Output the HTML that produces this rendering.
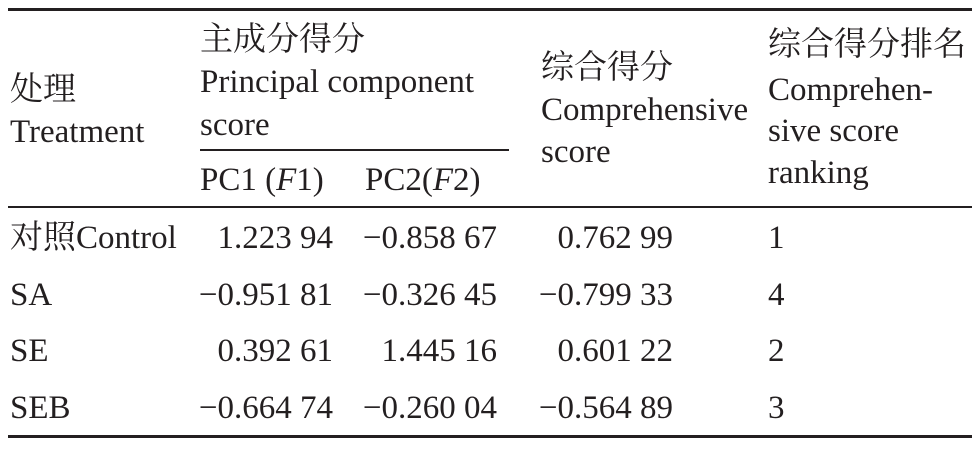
<!DOCTYPE html>
<html><head><meta charset="utf-8"><style>
html,body{margin:0;padding:0;background:#fff;}
body{width:979px;height:449px;position:relative;overflow:hidden;font-family:"Liberation Serif","Noto Serif CJK SC",serif;font-size:33px;color:#231f20;}
.t{position:absolute;line-height:36px;white-space:nowrap;}
.r{text-align:right;}
.l{position:absolute;background:#231f20;}
</style></head><body>
<div class="l" style="left:8px;top:8px;width:964px;height:3px"></div>
<div class="l" style="left:200px;top:149px;width:309px;height:2px"></div>
<div class="l" style="left:8px;top:206px;width:964px;height:2px"></div>
<div class="l" style="left:8px;top:435px;width:964px;height:3px"></div>

<div class="t" style="left:10px;top:72px">处理</div>
<div class="t" style="left:10px;top:114px">Treatment</div>
<div class="t" style="left:200px;top:22px">主成分得分</div>
<div class="t" style="left:200px;top:64px">Principal component</div>
<div class="t" style="left:200px;top:107px">score</div>
<div class="t" style="left:200px;top:162px">PC1 (<i>F</i>1)</div>
<div class="t" style="left:365px;top:162px">PC2(<i>F</i>2)</div>
<div class="t" style="left:541px;top:50px">综合得分</div>
<div class="t" style="left:541px;top:92px">Comprehensive</div>
<div class="t" style="left:541px;top:134px">score</div>
<div class="t" style="left:768px;top:27px">综合得分排名</div>
<div class="t" style="left:768px;top:72px">Comprehen-</div>
<div class="t" style="left:768px;top:113px">sive score</div>
<div class="t" style="left:768px;top:155px">ranking</div>

<div class="t" style="left:10px;top:220px">对照Control</div>
<div class="t" style="left:10px;top:277px">SA</div>
<div class="t" style="left:10px;top:333px">SE</div>
<div class="t" style="left:10px;top:390px">SEB</div>

<div class="t r" style="right:646px;top:220px">1.223 94</div>
<div class="t r" style="right:646px;top:277px">−0.951 81</div>
<div class="t r" style="right:646px;top:333px">0.392 61</div>
<div class="t r" style="right:646px;top:390px">−0.664 74</div>

<div class="t r" style="right:482px;top:220px">−0.858 67</div>
<div class="t r" style="right:482px;top:277px">−0.326 45</div>
<div class="t r" style="right:482px;top:333px">1.445 16</div>
<div class="t r" style="right:482px;top:390px">−0.260 04</div>

<div class="t r" style="right:306px;top:220px">0.762 99</div>
<div class="t r" style="right:306px;top:277px">−0.799 33</div>
<div class="t r" style="right:306px;top:333px">0.601 22</div>
<div class="t r" style="right:306px;top:390px">−0.564 89</div>

<div class="t" style="left:768px;top:220px">1</div>
<div class="t" style="left:768px;top:277px">4</div>
<div class="t" style="left:768px;top:333px">2</div>
<div class="t" style="left:768px;top:390px">3</div>
</body></html>
